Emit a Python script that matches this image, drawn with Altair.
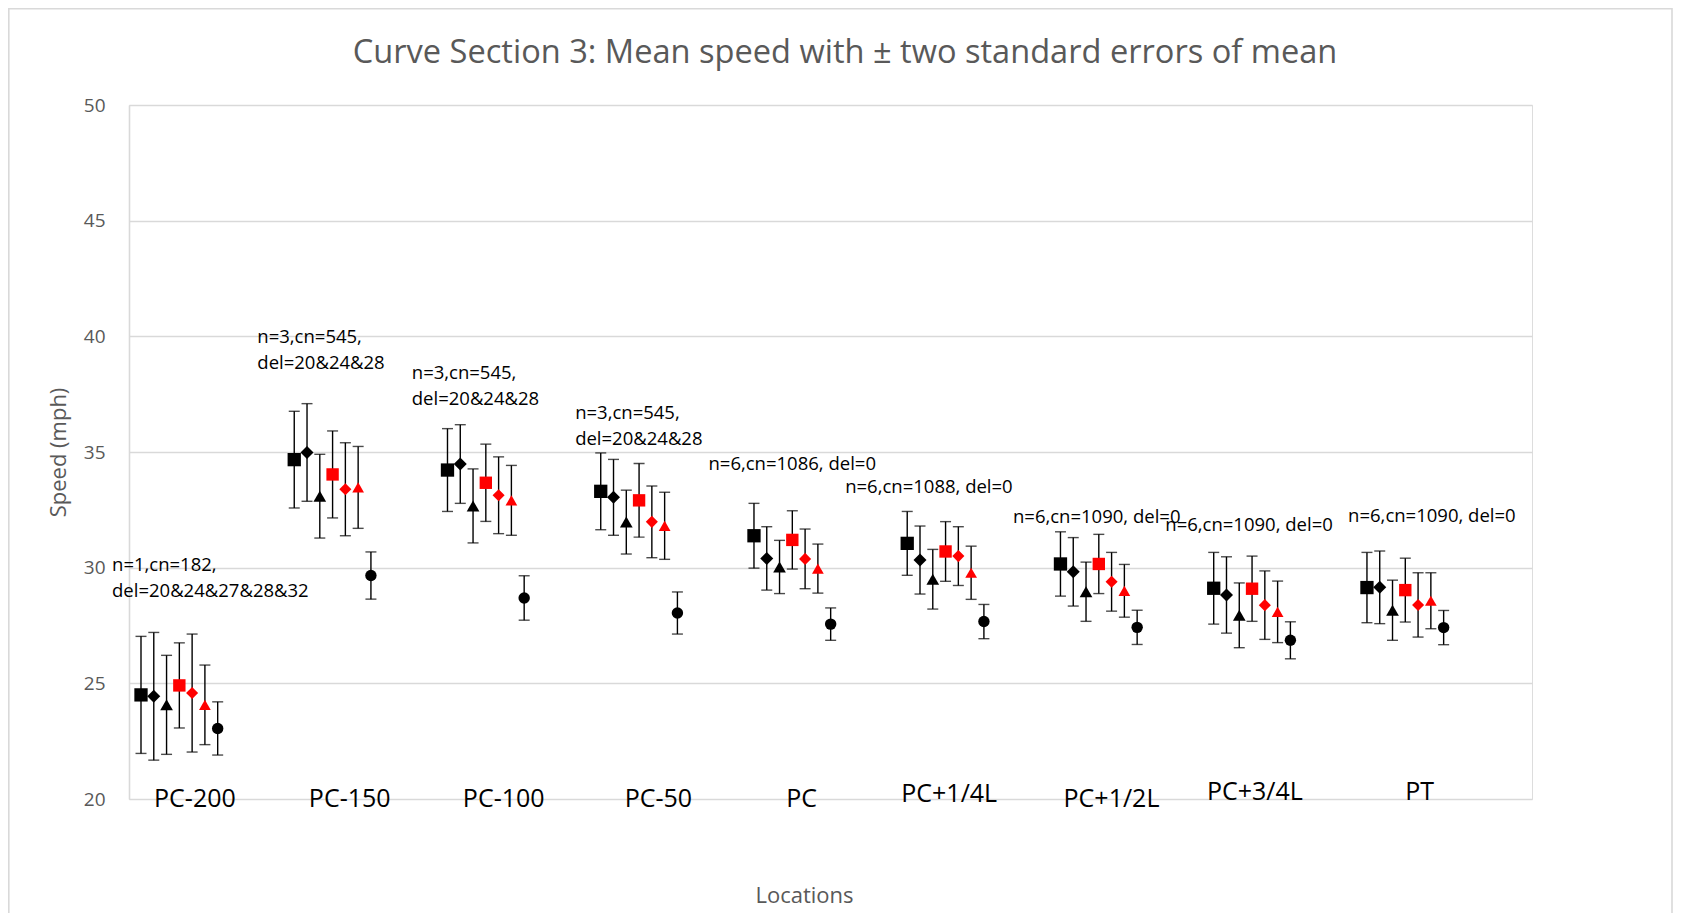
import altair as alt
import pandas as pd

# ---------------- data ----------------
locations = ["PC-200", "PC-150", "PC-100", "PC-50", "PC", "PC+1/4L", "PC+1/2L", "PC+3/4L", "PT"]

series_names = ["Series 1", "Series 2", "Series 3", "Series 4", "Series 5", "Series 6", "Series 7"]
series_shapes = ["square", "diamond", "triangle-up", "square", "diamond", "triangle-up", "circle"]
series_colors = ["#000000", "#000000", "#000000", "#ff0000", "#ff0000", "#ff0000", "#000000"]

# mean speed (mph) per location, one list per series
mean_s1 = [24.50, 34.67, 34.22, 33.30, 31.38, 31.05, 30.16, 29.11, 29.14]
mean_s2 = [24.44, 34.98, 34.48, 33.04, 30.40, 30.33, 29.82, 28.82, 29.15]
mean_s3 = [24.07, 33.09, 32.67, 31.97, 30.03, 29.50, 28.96, 27.94, 28.16]
mean_s4 = [24.91, 34.03, 33.67, 32.91, 31.20, 30.70, 30.16, 29.09, 29.03]
mean_s5 = [24.58, 33.39, 33.13, 31.98, 30.38, 30.50, 29.39, 28.38, 28.39]
mean_s6 = [24.07, 33.47, 32.91, 31.81, 29.96, 29.78, 29.00, 28.09, 28.57]
mean_s7 = [23.05, 29.66, 28.69, 28.04, 27.56, 27.67, 27.42, 26.86, 27.41]

# two standard errors of mean (mph)
tse_s1 = [2.53, 2.09, 1.79, 1.66, 1.40, 1.38, 1.39, 1.55, 1.52]
tse_s2 = [2.76, 2.11, 1.70, 1.64, 1.37, 1.47, 1.48, 1.65, 1.57]
tse_s3 = [2.14, 1.81, 1.60, 1.38, 1.15, 1.29, 1.28, 1.40, 1.30]
tse_s4 = [1.84, 1.88, 1.67, 1.59, 1.26, 1.29, 1.28, 1.41, 1.38]
tse_s5 = [2.55, 2.01, 1.66, 1.55, 1.29, 1.27, 1.27, 1.48, 1.39]
tse_s6 = [1.72, 1.77, 1.51, 1.45, 1.06, 1.15, 1.14, 1.33, 1.21]
tse_s7 = [1.15, 1.02, 0.96, 0.91, 0.70, 0.74, 0.74, 0.80, 0.74]

notes = [
    "n=1,cn=182,\ndel=20&24&27&28&32",
    "n=3,cn=545,\ndel=20&24&28",
    "n=3,cn=545,\ndel=20&24&28",
    "n=3,cn=545,\ndel=20&24&28",
    "n=6,cn=1086, del=0",
    "n=6,cn=1088, del=0",
    "n=6,cn=1090, del=0",
    "n=6,cn=1090, del=0",
    "n=6,cn=1090, del=0",
]

chart_title = "Curve Section 3: Mean speed with \u00b1 two standard errors of mean"

# ---------------- layout (annotation anchors, in data units) ----------------
SERIES_STEP = 0.0834
note_x = [-0.189, 0.759, 1.767, 2.833, 3.703, 4.595, 5.690, 6.684, 7.877]
note_y = [30.52, 40.35, 38.80, 37.08, 34.87, 33.86, 32.57, 32.25, 32.61]
label_x = [0.352, 1.362, 2.367, 3.376, 4.311, 5.274, 6.333, 7.269, 8.344]
label_y = [20.01, 20.01, 20.01, 20.01, 20.01, 20.21, 20.01, 20.30, 20.30]

means = [mean_s1, mean_s2, mean_s3, mean_s4, mean_s5, mean_s6, mean_s7]
tses = [tse_s1, tse_s2, tse_s3, tse_s4, tse_s5, tse_s6, tse_s7]

rows = []
for j, name in enumerate(series_names):
    for i, loc in enumerate(locations):
        m = means[j][i]
        e = tses[j][i]
        rows.append({
            "series": name, "location": loc,
            "xv": i + j * SERIES_STEP,
            "yv": m, "lo": m - e, "hi": m + e,
        })
df = pd.DataFrame(rows)

notes_df = pd.DataFrame({"xv": note_x, "yv": note_y, "txt": notes})
labels_df = pd.DataFrame({"xv": label_x, "yv": label_y, "txt": locations})

GREY = "#595959"
FONT = "Open Sans"

x_enc = alt.X(
    "xv:Q",
    scale=alt.Scale(domain=[-0.0783, 9.077], nice=False, zero=False),
    axis=alt.Axis(
        labels=False, ticks=False, domain=False, grid=False,
        title="Locations", titleFont=FONT, titleFontSize=22, titleFontWeight="normal",
        titleColor=GREY, titleX=675, titleY=96, titleBaseline="middle", titleAlign="center",
    ),
)
y_scale = alt.Scale(domain=[20, 50], nice=False, zero=False)
y_enc = alt.Y(
    "yv:Q",
    scale=y_scale,
    axis=alt.Axis(
        values=[20, 25, 30, 35, 40, 45, 50], grid=True, gridColor="#d9d9d9", gridWidth=1.6,
        domainColor="#d9d9d9", domainWidth=1.6, ticks=False, tickSize=0, labelPadding=24,
        labelFont=FONT, labelFontSize=19, labelColor=GREY,
        title="Speed (mph)", titleFont=FONT, titleFontSize=22, titleFontWeight="normal",
        titleColor=GREY, titleX=-71, titleY=347, titleAngle=-90,
        titleBaseline="middle", titleAlign="center",
    ),
)

base = alt.Chart(df)

bars = base.mark_rule(color="black", strokeWidth=1.4).encode(
    x=x_enc, y=alt.Y("lo:Q", scale=y_scale), y2="hi:Q"
)
cap_lo = base.mark_tick(color="black", orient="horizontal", size=11, thickness=1.4).encode(
    x=x_enc, y=alt.Y("lo:Q", scale=y_scale)
)
cap_hi = base.mark_tick(color="black", orient="horizontal", size=11, thickness=1.4).encode(
    x=x_enc, y=alt.Y("hi:Q", scale=y_scale)
)
points = base.mark_point(filled=True, opacity=1, strokeWidth=0).encode(
    x=x_enc,
    y=y_enc,
    shape=alt.Shape("series:N", scale=alt.Scale(domain=series_names, range=series_shapes), legend=None),
    color=alt.Color("series:N", scale=alt.Scale(domain=series_names, range=series_colors), legend=None),
    size=alt.Size("series:N", scale=alt.Scale(domain=series_names,
                                              range=[177, 130, 150, 177, 130, 150, 155]), legend=None),
)

note_text = alt.Chart(notes_df).mark_text(
    align="left", baseline="top", font=FONT, fontSize=18.5, color="black",
    lineBreak="\n", lineHeight=26,
).encode(x="xv:Q", y="yv:Q", text="txt:N")

loc_text = alt.Chart(labels_df).mark_text(
    align="center", baseline="middle", font=FONT, fontSize=25, color="black",
).encode(x="xv:Q", y="yv:Q", text="txt:N")

title_text = alt.Chart(pd.DataFrame({"txt": [chart_title]})).mark_text(
    align="center", baseline="middle", font=FONT, fontSize=32.6, color=GREY,
).encode(x=alt.value(716), y=alt.value(-52.5), text="txt:N")

frame = alt.Chart(pd.DataFrame({"d": [0]})).mark_rect(
    fill="white", fillOpacity=0, stroke="#d9d9d9", strokeWidth=1.6
).encode(
    x=alt.value(-120.2), x2=alt.value(1543), y=alt.value(-96.2), y2=alt.value(840)
)

chart = alt.layer(frame, bars, cap_lo, cap_hi, points, note_text, loc_text, title_text).properties(
    width=1403,
    height=694,
    autosize=alt.AutoSizeParams(type="none"),
    padding={"left": 121, "top": 97, "right": 144, "bottom": 114},
).configure_view(stroke=None).configure(background="white")

chart.save("out.html", embed_options={"renderer": "svg", "actions": False})
